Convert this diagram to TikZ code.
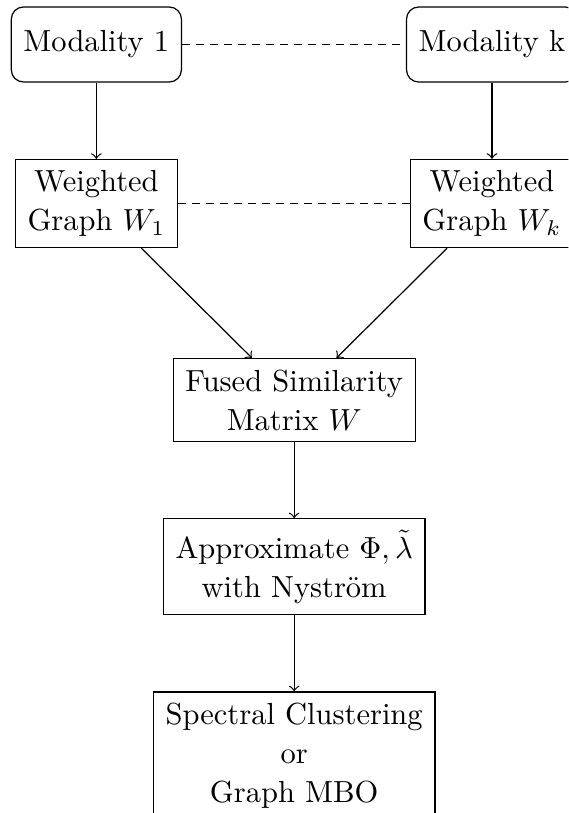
\documentclass[tikz,border=0pt]{standalone}
\usepackage{amsmath}
\usepackage{amssymb}
\usetikzlibrary{shapes, positioning, calc}

\begin{document}
\begin{tikzpicture}[->,
auto,
thin,
block/.style={draw, fill=white, rectangle, align=center, inner xsep=4pt, inner ysep=3.6pt,
  font=\fontsize{10}{12.8}\selectfont},
modal/.style={block, rounded corners, minimum height=24.6pt},
link/.style={-, dash pattern=on 2.6pt off 2pt}]

\useasboundingbox (-31.6pt,14.6pt) rectangle (154.8pt,-252pt);
\clip (-31.6pt,14.6pt) rectangle (154.8pt,-252pt);

\node[modal]	(M1) at (0,0)			{Modality 1};
\node[modal]	(Mk)[right=73.4pt of M1]	{Modality k};

\node[block]	(W1)[below=25pt of M1]		{Weighted \\ Graph $W_1$};
\node[block]	(Wk)[below=25pt of Mk]		{Weighted \\ Graph $W_k$};

\coordinate (mid) at ($(W1.south)!0.5!(Wk.south)$);
\node[block]	(F)[below=36pt of mid]		{Fused Similarity \\ Matrix $W$};
\node[block]	(A)[below=25pt of F]		{Approximate $\Phi, \tilde{\lambda}$ \\ with Nystr\"om};
\node[block]	(S)[below=25pt of A]		{Spectral Clustering \\ or \\ Graph MBO};

\path[->]
 (M1) edge (W1)
 (Mk) edge (Wk)
 (W1) edge (F)
 (Wk) edge (F)
 (F) edge (A)
 (A) edge (S);

\path[link]
 (M1) edge (Mk)
 (W1) edge (Wk);

\end{tikzpicture}
\end{document}
